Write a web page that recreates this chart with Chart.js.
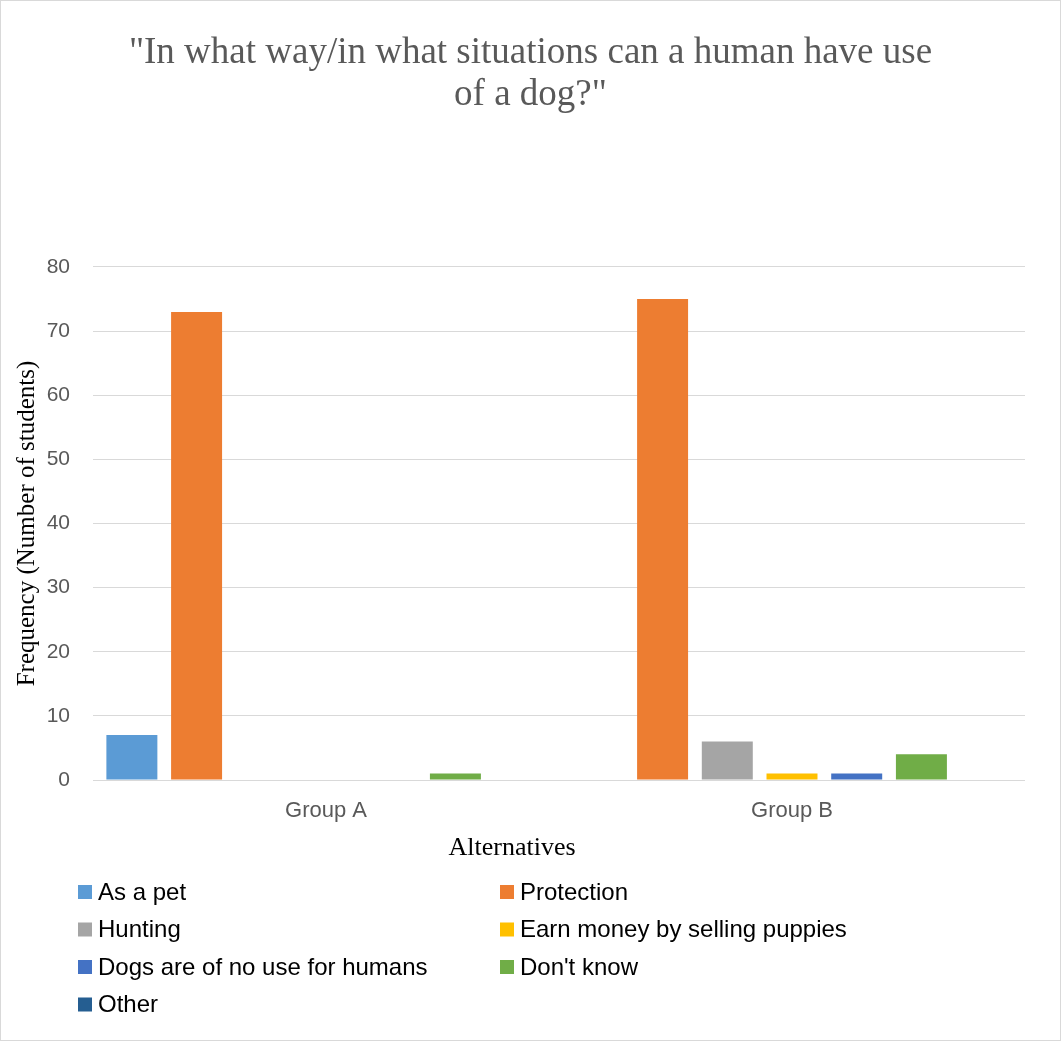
<!DOCTYPE html>
<html>
<head>
<meta charset="utf-8">
<title>Use of a dog</title>
<script src="https://cdn.jsdelivr.net/npm/chart.js@4.4.1/dist/chart.umd.min.js"></script>
<style>
  html, body { margin: 0; padding: 0; background: #fff; }
  #wrap { position: relative; width: 1061px; height: 1042px; }
</style>
</head>
<body>
<div id="wrap"><canvas id="chart" width="1061" height="1042"></canvas></div>
<script>
// Categories and series values
const groups = ['Group A', 'Group B'];
const asPet = [7, 0];
const protection = [73, 75];
const hunting = [0, 6];
const earnMoney = [0, 1];
const noUse = [0, 1];
const dontKnow = [1, 4];
const other = [0, 0];

const seriesNames = [
  'As a pet', 'Protection', 'Hunting', 'Earn money by selling puppies',
  "Dogs are of no use for humans", "Don't know", 'Other'
];
const seriesValues = [asPet, protection, hunting, earnMoney, noUse, dontKnow, other];
const seriesColors = ['#5B9BD5', '#ED7D31', '#A5A5A5', '#FFC000', '#4472C4', '#70AD47', '#255E91'];

const titleLines = ['"In what way/in what situations can a human have use', 'of a dog?"'];
const yTitle = 'Frequency (Number of students)';
const xTitle = 'Alternatives';

const sans = "'Liberation Sans', Arial, sans-serif";
const serif = "'Liberation Serif', 'Times New Roman', serif";

// Outer frame and white background
const framePlugin = {
  id: 'frame',
  beforeDraw(chart) {
    const ctx = chart.ctx;
    ctx.save();
    ctx.fillStyle = '#ffffff';
    ctx.fillRect(0, 0, chart.width, chart.height);
    ctx.strokeStyle = '#d9d9d9';
    ctx.lineWidth = 1;
    ctx.strokeRect(0.5, 0.5, chart.width - 1, chart.height - 2);
    ctx.restore();
  }
};

// Horizontal axis title, centred under the plot
const xTitlePlugin = {
  id: 'xTitle',
  afterDraw(chart) {
    const ctx = chart.ctx;
    ctx.save();
    ctx.font = '26px ' + serif;
    ctx.fillStyle = '#000000';
    ctx.textAlign = 'center';
    ctx.textBaseline = 'middle';
    ctx.fillText(xTitle, 512, 848);
    ctx.restore();
  }
};

// Two-column legend below the axis title
const gridLegend = {
  id: 'gridLegend',
  afterDraw(chart) {
    const ctx = chart.ctx;
    const colX = [78, 500];
    const rowY0 = 892, rowStep = 37.5, box = 14;
    ctx.save();
    ctx.font = '24px ' + sans;
    ctx.textBaseline = 'middle';
    ctx.textAlign = 'left';
    chart.data.datasets.forEach((ds, i) => {
      const x = colX[i % 2];
      const y = rowY0 + Math.floor(i / 2) * rowStep;
      ctx.fillStyle = ds.backgroundColor;
      ctx.fillRect(x, y - box / 2, box, box);
      ctx.fillStyle = '#000000';
      ctx.fillText(ds.label, x + 20, y + 1);
    });
    ctx.restore();
  }
};

new Chart(document.getElementById('chart'), {
  type: 'bar',
  data: {
    labels: groups,
    datasets: seriesNames.map((name, i) => ({
      label: name,
      data: seriesValues[i],
      backgroundColor: seriesColors[i],
      borderWidth: 0,
      categoryPercentage: 0.972,
      barPercentage: 0.788
    }))
  },
  options: {
    responsive: false,
    animation: false,
    layout: { padding: { left: 36, right: 36, top: 0, bottom: 175 } },
    plugins: {
      legend: { display: false },
      tooltip: { enabled: false },
      title: {
        display: true,
        text: titleLines,
        color: '#595959',
        font: { family: serif, size: 37, weight: 'normal', lineHeight: 1.135 },
        padding: { top: 32, bottom: 151 }
      }
    },
    scales: {
      x: {
        grid: { display: false, drawTicks: false },
        border: { display: false },
        ticks: { color: '#595959', font: { family: sans, size: 22 }, padding: 18 },
        afterFit(scale) { scale.height = 87; }
      },
      y: {
        min: 0,
        max: 80,
        ticks: { stepSize: 10, color: '#595959', font: { family: sans, size: 21 }, padding: 23 },
        grid: { color: '#d9d9d9', lineWidth: 1, drawTicks: false },
        border: { display: false },
        title: {
          display: true,
          text: yTitle,
          color: '#000000',
          font: { family: serif, size: 25, lineHeight: 1.2 },
          padding: { top: -24, bottom: 0 }
        },
        afterFit(scale) { scale.width = 57; }
      }
    }
  },
  plugins: [framePlugin, xTitlePlugin, gridLegend]
});
</script>
</body>
</html>
